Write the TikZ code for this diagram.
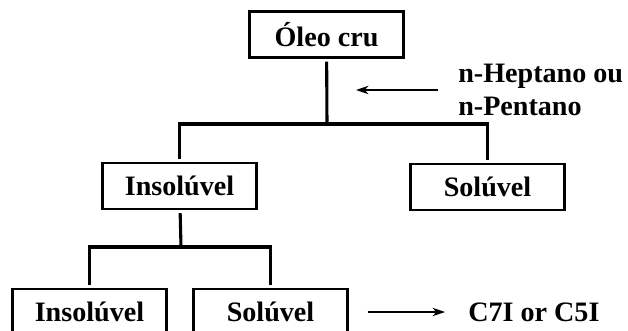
\documentclass[tikz,border=0pt]{standalone}
\usepackage{fontspec}
\setmainfont{Liberation Serif}
\usetikzlibrary{arrows.meta,positioning}

\tikzset{
  fraction/.style={draw, line width=1.7pt, minimum width=3.85cm, minimum height=1.15cm,
    inner sep=0pt, outer sep=3pt, font=\bfseries\fontsize{20}{24}\selectfont},
  note/.style={inner sep=0pt, align=left, font=\bfseries\fontsize{20}{23.8}\selectfont},
  branch/.style={line width=2.2pt},
  flow/.style={line width=0.8pt, -{Stealth[length=9pt,width=6pt]}}
}

\begin{document}
\begin{tikzpicture}
\useasboundingbox (0,0) rectangle (15.7,8.25);

% Fractions
\node[fraction] (oleo) at (8.1625,7.3875) {Óleo cru};
\node[fraction] (insol) at (4.4875,3.6) {Insolúvel};
\node[fraction] (sol) at (12.1875,3.575) {Solúvel};
\node[fraction] (insolB) at (2.2375,0.45) {Insolúvel};
\node[fraction] (solB) at (6.7625,0.45) {Solúvel};

% Labels
\node[note, anchor=west] (solvent) at (11.45,6.0) {n-Heptano ou\\n-Pentano};
\node[note, anchor=west] (product) at (11.7,0.45) {C7I or C5I};

% Splits
\coordinate (split1) at (8.175,5.15);
\coordinate (split2) at (4.525,2.075);
\coordinate (inlet) at (8.9,6.0);

\draw[branch] (oleo) -- (split1);
\draw[branch] (insol.north) |- (split1) -| (sol.north);
\draw[branch] (insol) -- (split2);
\draw[branch] (insolB.north) |- (split2) -| (solB.north);

% Arrows
\draw[flow, shorten <=0.5cm] (solvent.west) -- (inlet);
\draw[flow, shorten <=0.4cm, shorten >=0.575cm] (solB.east) -- (product.west);

\end{tikzpicture}
\end{document}
